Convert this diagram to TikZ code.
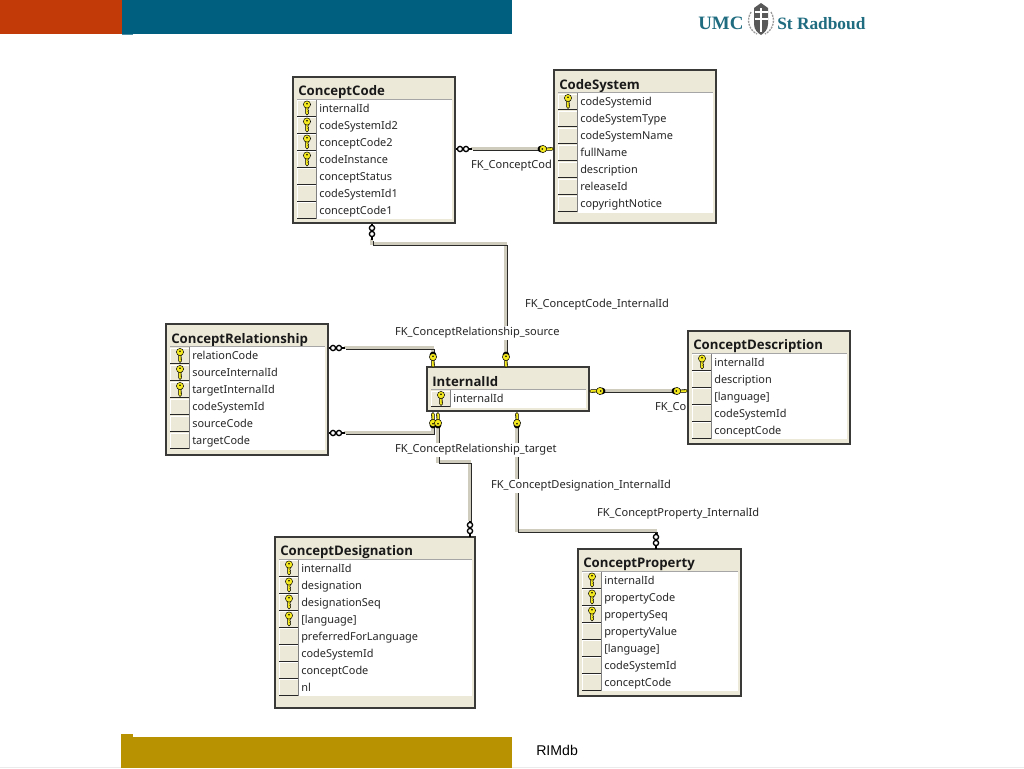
\documentclass[tikz,border=0pt]{standalone}
\usepackage{fontspec}
\setmainfont{Noto Sans}
\newfontfamily\titlefont{Open Sans}
\newfontfamily\rimfont{Liberation Sans}
\newfontfamily\logofont{Liberation Serif}
\usetikzlibrary{fit,calc}
\definecolor{panel}{HTML}{ECE9D8}
\definecolor{edge}{HTML}{3A3A38}
\definecolor{fklight}{HTML}{CFCCBD}
\definecolor{fkdark}{HTML}{2A2A28}
\definecolor{keyyellow}{HTML}{F4E81E}
\definecolor{umcred}{HTML}{C23A08}
\definecolor{umcteal}{HTML}{005F7F}
\definecolor{umcgold}{HTML}{B89200}
\definecolor{logoteal}{HTML}{1F6C80}
\tikzset{
  tablebox/.style={draw=edge,line width=.85pt,fill=panel,inner sep=0pt},
  titletext/.style={anchor=base west,inner sep=0pt,font=\titlefont\fontsize{9.9pt}{11pt}\selectfont\bfseries,text=black!90},
  rowtext/.style={anchor=base west,inner sep=0pt,font=\fontsize{8.2pt}{10pt}\selectfont,text=black!85},
  fklabel/.style={anchor=west,inner sep=1pt,fill=white,font=\fontsize{8.3pt}{10pt}\selectfont,text=black!85},
  fklightline/.style={draw=fklight,line width=2.3pt,transform canvas={xshift=-.5pt,yshift=.5pt}},
  fkdarkline/.style={draw=fkdark,line width=.8pt,transform canvas={xshift=.95pt,yshift=-.95pt}},
}
\newcommand{\fkpath}[1]{%
  \draw[fklightline] #1;
  \draw[fkdarkline] #1;}
\newcommand{\keyglyph}[3]{%
  \begin{scope}[shift={(#1,#2)},rotate=#3]
    \fill[keyyellow,draw=black,line width=.35pt] (-1.3,2) -- (-1.3,9) -- (0,10.5) -- (1.6,9) -- (1.6,7.5) -- (.8,7) -- (1.6,6) -- (.8,5) -- (1.3,4) -- (1.3,2) -- cycle;
    \fill[keyyellow,draw=black,line width=.35pt] (0,0) circle (3.6);
    \fill[black] (0,-.8) circle (.9);
  \end{scope}}
\newcommand{\fkkey}[3]{%
  \begin{scope}[shift={(#1,#2)},rotate=#3]
    \fill[black] (0,-2) circle (3.4);
  \end{scope}
  \keyglyph{#1}{#2}{#3}}
\newcommand{\ooglyph}[3]{%
  \begin{scope}[shift={(#1,#2)},rotate=#3]
    \draw[black,line width=.9pt] (0,0) -- (0,16);
    \draw[black,line width=1pt,fill=white] (0,4) circle (2.6);
    \draw[black,line width=1pt,fill=white] (0,10) circle (2.6);
  \end{scope}}
% id, x1,y1,x2,y2, title y, first row y, rows
\newcommand{\dbtable}[8]{%
  \node[tablebox,fit={(#2,#3)(#4,#5)}] (#1) {};
  \node[titletext] (#1-title) at ($(#2,#6)+(5,5)$) {\csname dbtitle@#1\endcsname};
  \foreach \rowk/\rowt [count=\rowi from 0] in {#8}{
    \pgfmathsetmacro{\rowy}{#7+17*\rowi}
    \pgfmathsetmacro{\colx}{#2+4}
    \pgfmathsetmacro{\colxx}{#2+23.5}
    \pgfmathsetmacro{\rowtop}{\rowy-8.5}
    \pgfmathsetmacro{\rowbot}{\rowy+8.5}
    \pgfmathsetmacro{\bodyr}{#4-3}
    \fill[white] (\colxx,\rowtop-.5) rectangle (\bodyr,\rowbot+.5);
    \fill[panel] (\colx,\rowtop) rectangle (\colxx,\rowbot);
    \draw[white,line width=.6pt] (\colx,\rowbot-1) -- (\colx,\rowtop+.9) -- (\colxx,\rowtop+.9);
    \draw[black!85,line width=.75pt] (\colx,\rowbot-.2) -- (\colxx,\rowbot-.2);
    \draw[black!50,line width=.6pt] (\colxx,\rowtop) -- (\colxx,\rowbot);
    \node[rowtext] (#1-r\rowi) at (#2+26,\rowy+4.2) {\rowt};
    \ifnum\rowk=1 \keyglyph{\colx+10}{\rowy-3.5}{0}\fi
  }
  \pgfmathsetmacro{\ruley}{#7-9}
  \pgfmathsetmacro{\bodyr}{#4-3}
  \draw[black!35,line width=.5pt] (#2+4,\ruley) -- (\bodyr,\ruley);
}
\begin{document}
\begin{tikzpicture}[x=.75pt,y=-.75pt]
\useasboundingbox (0,0) rectangle (1024,768);
\fill[white] (0,0) rectangle (1024,768);
% banner
\fill[umcred] (0,0) rectangle (122,33.5);
\fill[umcteal] (122,0) rectangle (512,33.5);
\fill[umcteal!70] (122,33.5) rectangle (133,34.3);
\fill[black!8] (0,766.8) rectangle (1024,768);
\fill[umcgold] (121,737) rectangle (512,768);
\fill[umcgold] (121,734) rectangle (133,737);
\node[anchor=west,inner sep=0pt,font=\rimfont\fontsize{10.6pt}{12pt}\selectfont] (rim) at (536,750) {RIMdb};
% logo
\node[anchor=west,inner sep=0pt,text=logoteal,font=\logofont\bfseries\fontsize{14.2pt}{16pt}\selectfont] (umc) at (698,23.5) {UMC};
\node[anchor=west,inner sep=0pt,text=logoteal,font=\logofont\bfseries\fontsize{13pt}{16pt}\selectfont] (rad) at (777,23.5) {St Radboud};
\fill[black!65] (754,8) -- (761,3) -- (768,8) -- (768,24) .. controls (768,30) and (764,33) .. (761,35) .. controls (758,33) and (754,30) .. (754,24) -- cycle;
\draw[white,line width=.8pt] (761,8) -- (761,32) (754.5,19) -- (767.5,19) (754.5,12) -- (767.5,12);
\draw[black!40,line width=1pt,dash pattern=on 1.5pt off .8pt] (751,12) .. controls (746,20) and (749,30) .. (757,34);
\draw[black!40,line width=1pt,dash pattern=on 1.5pt off .8pt] (771,12) .. controls (776,20) and (773,30) .. (765,34);
% connector ends
\coordinate (ccsA) at (472,149); \coordinate (ccsB) at (545,149);
\coordinate (cinA) at (372,240); \coordinate (cinK) at (372,244); \coordinate (cinL) at (506,244); \coordinate (cinB) at (506,354);
\coordinate (rsA) at (345,348); \coordinate (rsK) at (433,348); \coordinate (rsB) at (433,354);
\coordinate (rtA) at (345,433); \coordinate (rtK) at (433,433); \coordinate (rtB) at (433,423);
\coordinate (dgA) at (438,423); \coordinate (dgK) at (438,462); \coordinate (dgL) at (470,462); \coordinate (dgB) at (470,522);
\coordinate (prA) at (517,424); \coordinate (prK) at (517,531); \coordinate (prL) at (656,531); \coordinate (prB) at (656,534);
\coordinate (dsA) at (602,391); \coordinate (dsB) at (676,391);
\fkpath{(ccsA) -- (ccsB)}
\fkpath{(cinA) -- (cinK) -- (cinL) -- (cinB)}
\fkpath{(rsA) -- (rsK) -- (rsB)}
\fkpath{(rtA) -- (rtK) -- (rtB)}
\fkpath{(dgA) -- (dgK) -- (dgL) -- (dgB)}
\fkpath{(prA) -- (prK) -- (prL) -- (prB)}
\fkpath{(dsA) -- (dsB)}
% labels
\node[fklabel] (l1) at (469.5,166) {FK\_ConceptCod};
\node[fklabel] (l2) at (523.5,305) {FK\_ConceptCode\_InternalId};
\node[fklabel] (l3) at (393.5,333) {FK\_ConceptRelationship\_source};
\node[fklabel] (l4) at (393.5,450) {FK\_ConceptRelationship\_target};
\node[fklabel] (l5) at (489.5,486) {FK\_ConceptDesignation\_InternalId};
\node[fklabel] (l6) at (595.5,514) {FK\_ConceptProperty\_InternalId};
\node[fklabel] (l7) at (653.5,407) {FK\_Co};
% tables
\expandafter\def\csname dbtitle@cc\endcsname{ConceptCode}
\expandafter\def\csname dbtitle@cs\endcsname{CodeSystem}
\expandafter\def\csname dbtitle@cr\endcsname{ConceptRelationship}
\expandafter\def\csname dbtitle@ii\endcsname{InternalId}
\expandafter\def\csname dbtitle@cd\endcsname{ConceptDescription}
\expandafter\def\csname dbtitle@cg\endcsname{ConceptDesignation}
\expandafter\def\csname dbtitle@cp\endcsname{ConceptProperty}
\dbtable{cc}{293}{77}{455}{223}{90}{108}{1/internalId,1/codeSystemId2,1/conceptCode2,1/codeInstance,0/conceptStatus,0/codeSystemId1,0/conceptCode1}
\dbtable{cs}{554}{70}{716}{223}{84}{101.5}{1/codeSystemid,0/codeSystemType,0/codeSystemName,0/fullName,0/description,0/releaseId,0/copyrightNotice}
\dbtable{cr}{166}{324}{328}{455}{338}{355.5}{1/relationCode,1/sourceInternalId,1/targetInternalId,0/codeSystemId,0/sourceCode,0/targetCode}
\dbtable{ii}{427}{367}{589}{411}{381}{398.5}{1/internalId}
\dbtable{cd}{688}{331}{850}{444}{344}{362}{1/internalId,0/description,0/[language],0/codeSystemId,0/conceptCode}
\dbtable{cg}{275}{537}{475}{708}{550}{568}{1/internalId,1/designation,1/designationSeq,1/[language],0/preferredForLanguage,0/codeSystemId,0/conceptCode,0/nl}
\dbtable{cp}{578}{549}{741}{696}{562}{580}{1/internalId,1/propertyCode,1/propertySeq,0/propertyValue,0/[language],0/codeSystemId,0/conceptCode}
% end glyphs
\ooglyph{456}{149}{90}
\ooglyph{372}{224}{0}
\ooglyph{329}{348}{90}
\ooglyph{329}{433}{90}
\ooglyph{470}{521}{0}
\ooglyph{656}{533}{0}
\fkkey{543}{149}{90}
\fkkey{506}{357}{0}
\fkkey{433}{357}{0}
\fkkey{433}{423}{180}
\fkkey{438}{423}{180}
\fkkey{517}{423}{180}
\fkkey{600}{391}{-90}
\fkkey{677}{391}{90}
\end{tikzpicture}
\end{document}
